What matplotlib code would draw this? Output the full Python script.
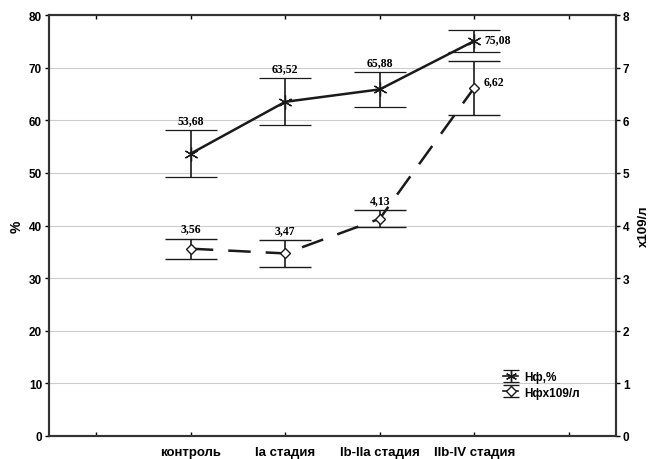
import matplotlib
matplotlib.use("Agg")
import matplotlib.pyplot as plt
import numpy as np

categories = ["контроль", "Ia стадия", "Ib-IIa стадия", "IIb-IV стадия"]
pct_values = [53.68, 63.52, 65.88, 75.08]
pct_err = [4.5, 4.5, 3.3, 2.15]
abs_values = [3.56, 3.47, 4.13, 6.62]
abs_err = [0.19, 0.25, 0.16, 0.51]
pct_labels = ["53,68", "63,52", "65,88", "75,08"]
abs_labels = ["3,56", "3,47", "4,13", "6,62"]
series_names = ["Нф,%", "Нфx109/л"]

plt.rcParams['font.family'] = ['Liberation Sans', 'DejaVu Sans']

fig = plt.figure(figsize=(6.5, 4.6), dpi=100)
ax = fig.add_axes([0.0754, 0.05, 0.8723, 0.915])
ax2 = ax.twinx()

col = '#1a1a1a'
x = [1, 2, 3, 4]
star = (6, 2, 0)
dash = (0, (9, 6))

ax.errorbar(x, pct_values, yerr=pct_err, color=col, lw=1.8, elinewidth=1.2,
            capsize=19, capthick=1.2, marker=star, ms=10, mew=0.9, zorder=3)
ax2.errorbar(x, abs_values, yerr=abs_err, color=col, lw=1.8, elinewidth=1.2,
             capsize=19, capthick=1.2, marker='D', ms=5.5, mfc='white', mew=1.0,
             ls=dash, zorder=3)

# legend proxies (small caps)
p1 = ax2.errorbar([np.nan], [np.nan], yerr=[1], color=col, lw=1.2, elinewidth=1.0,
                  capsize=6, capthick=1.0, marker=star, ms=8, mew=0.9, label=series_names[0])
p2 = ax2.errorbar([np.nan], [np.nan], yerr=[1], color=col, lw=1.2, elinewidth=1.0,
                  capsize=6, capthick=1.0, marker='D', ms=5, mfc='white', mew=1.0,
                  label=series_names[1])

ax.set_xlim(-0.5, 5.5)
ax.set_ylim(0, 80)
ax2.set_ylim(0, 8)
ax.set_yticks(range(0, 81, 10))
ax2.set_yticks(range(0, 9))
ax.set_xticks(range(0, 6))
ax.set_xticklabels([""] + categories + [""])

ax.grid(axis='y', color='#cccccc', lw=0.8)
ax.set_axisbelow(True)

for a in (ax, ax2):
    for s in a.spines.values():
        s.set_linewidth(1.5)
        s.set_color('#333333')

ax.tick_params(axis='y', direction='out', length=3, width=1, labelsize=8.5, pad=2)
ax2.tick_params(axis='y', direction='out', length=3, width=1, labelsize=8.5, pad=2)
ax.tick_params(axis='x', direction='in', length=3, width=1, labelsize=9.5, pad=7, top=True)
for lab in ax.get_yticklabels() + ax2.get_yticklabels() + ax.get_xticklabels():
    lab.set_fontweight('bold')

ax.set_ylabel("%", fontsize=10, fontweight='bold', labelpad=4)
ax2.set_ylabel("x109/л", fontsize=9.5, fontweight='bold', rotation=90, labelpad=6)

serif = ['Liberation Serif', 'DejaVu Serif']
for i in range(3):
    ax.annotate(pct_labels[i], (x[i], pct_values[i] + pct_err[i]), xytext=(0, 3),
                textcoords='offset points', ha='center', va='bottom', fontsize=8.5,
                family=serif, fontweight='bold')
    ax2.annotate(abs_labels[i], (x[i], abs_values[i] + abs_err[i]), xytext=(0, 3),
                 textcoords='offset points', ha='center', va='bottom', fontsize=8.5,
                 family=serif, fontweight='bold')
ax.annotate(pct_labels[3], (x[3], pct_values[3]), xytext=(7, 1),
            textcoords='offset points', ha='left', va='center', fontsize=8.5,
            family=serif, fontweight='bold')
ax2.annotate(abs_labels[3], (x[3], abs_values[3]), xytext=(7, 5),
             textcoords='offset points', ha='left', va='center', fontsize=8.5,
             family=serif, fontweight='bold')

leg = ax2.legend(handles=[p1, p2], loc='lower left', bbox_to_anchor=(0.79, 0.075),
                 frameon=False, fontsize=8.5, handlelength=1.3, handletextpad=0.5,
                 labelspacing=0.3, borderpad=0)
for t in leg.get_texts():
    t.set_fontweight('bold')

fig.savefig("out.png", dpi=100)
